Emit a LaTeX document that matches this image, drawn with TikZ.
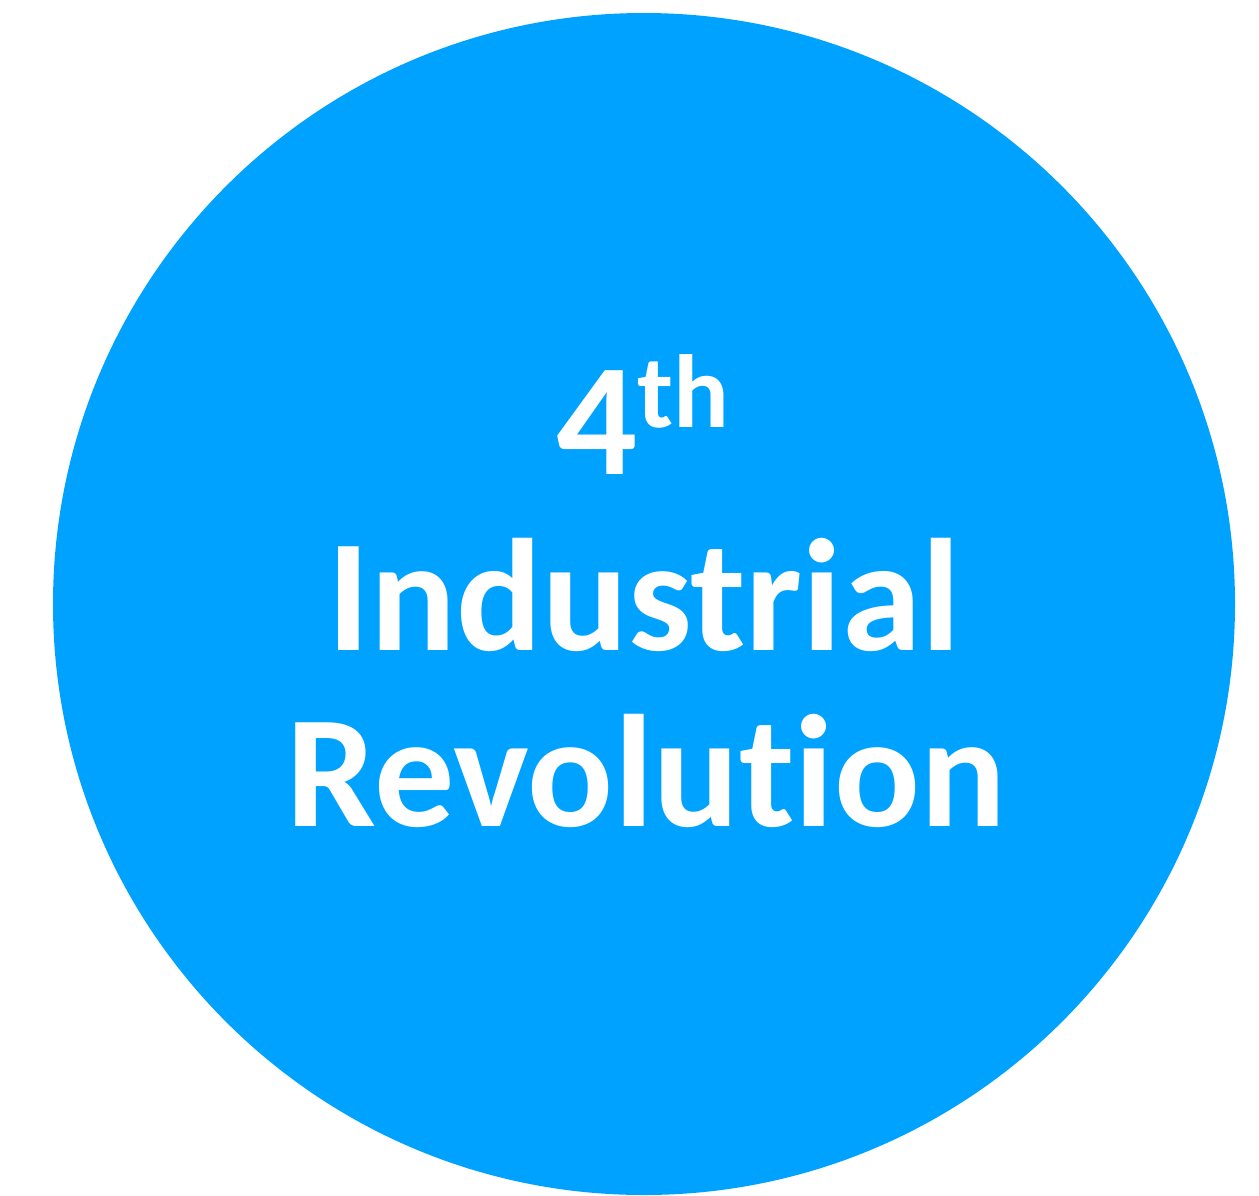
\documentclass[tikz,border=0pt]{standalone}
\usepackage{fontspec}
\setmainfont[Ligatures={NoCommon,NoRequired,NoContextual}]{Carlito}
\definecolor{circblue}{HTML}{00A2FF}
\begin{document}
\begin{tikzpicture}[x=1pt,y=1pt,
  bigtext/.style={text=white,font=\bfseries\fontsize{160}{176}\selectfont,anchor=base,inner sep=0pt}]
\useasboundingbox (0,0) rectangle (1259,-1195);
\fill[circblue] (644,-604) circle (591);
\node[bigtext] (l1) at (643,-474) {4\raisebox{47pt}{\fontsize{104}{110}\selectfont th}};
\node[bigtext] (l2) at (644,-650) {Industrial};
\node[bigtext] (l3) at (646,-826) {Revolution};
\end{tikzpicture}
\end{document}
